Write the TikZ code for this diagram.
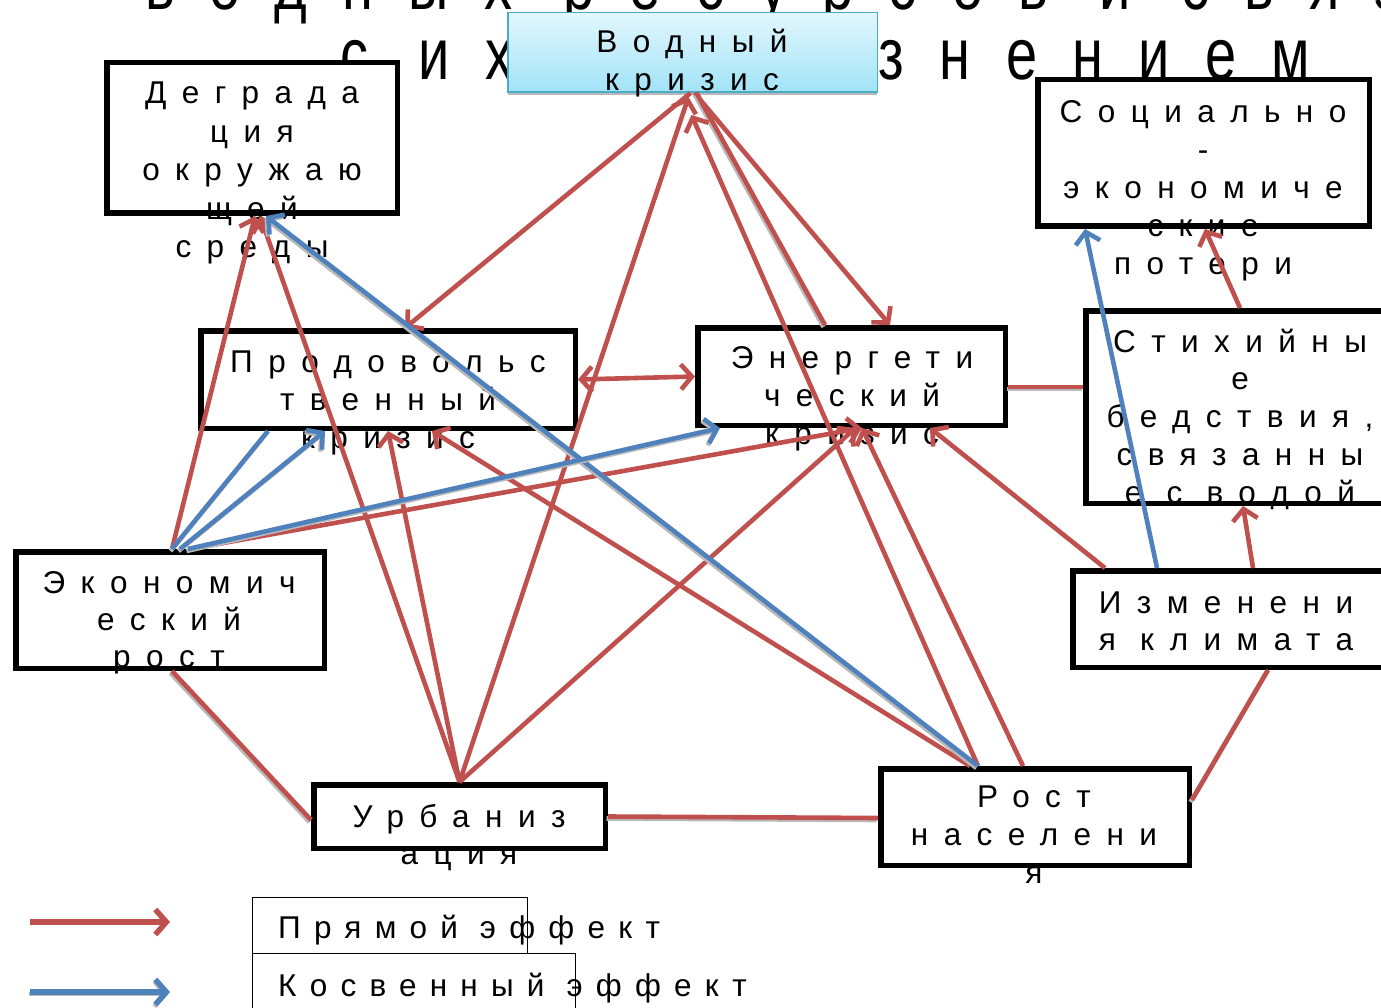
\documentclass[tikz,border=0pt]{standalone}
\usepackage{fontspec}
\setmainfont{Liberation Sans}
\newfontfamily\boxfamily[LetterSpace=49]{Liberation Sans}
\newfontfamily\legendfamily[LetterSpace=42]{Liberation Sans}
\newfontfamily\titlefamily[LetterSpace=63]{Liberation Sans}
\usetikzlibrary{arrows.meta}
\definecolor{effred}{HTML}{C0504D}
\definecolor{effblue}{HTML}{4F81BD}
\definecolor{watertop}{HTML}{E2F7FD}
\definecolor{waterbot}{HTML}{A2E3F7}
\definecolor{waterline}{HTML}{4BACC6}

% one text line per node, baselines spaced evenly
\newcommand\drawlines[5]{%
  \foreach \t [count=\i] in {#5} {\node[lbl] (#1-l\i) at ({#2},{#3+#4*(\i-1)}) {\t};}}

\tikzset{
  x=1pt, y=-1pt,
  >={Straight Barb[length=11pt,width=25pt]},
  blk/.style={draw=black, line width=5.5pt, fill=white, inner sep=0pt},
  waterbox/.style={draw=waterline, line width=1.5pt, top color=watertop,
    bottom color=waterbot, inner sep=0pt,
    preaction={fill=gray!55, transform canvas={yshift=-3pt}}},
  lbl/.style={anchor=base, inner sep=0pt,
    font=\boxfamily\fontsize{31.5}{37}\selectfont},
  legtxt/.style={anchor=base west, inner sep=0pt,
    font=\legendfamily\fontsize{31.5}{37}\selectfont},
  ttl/.style={anchor=base west, inner sep=0pt,
    font=\titlefamily\fontsize{56}{60}\selectfont},
  redline/.style={draw=effred, line width=4.6pt},
  blueline/.style={draw=effblue, line width=4.6pt},
  shadowed/.style={preaction={draw=gray!55, line width=4.6pt,
    transform canvas={xshift=-1.5pt, yshift=-2pt}}},
  legbox/.style={draw=black, line width=0.8pt, inner sep=0pt},
}

\begin{document}
\begin{tikzpicture}
\useasboundingbox (0,0) rectangle (1381,1008);
\clip (0,0) rectangle (1381,1008);
\fill[white] (0,0) rectangle (1381,1008);

% heading behind the boxes
\node[ttl] (title1) at (145,10) {\scalebox{1}[1.3]{водных ресурсов и связ}};
\node[ttl] (title2) at (340,80) {\scalebox{1}[1.3]{с их загрязнением}};

% boxes
\node[waterbox, minimum width=369.5pt, minimum height=79.5pt] (water) at (692.5,52.5) {};
\node[blk, minimum width=290.5pt, minimum height=150.5pt] (deg)  at (252,138) {};
\node[blk, minimum width=331.5pt, minimum height=146.5pt] (soc)  at (1203.5,153) {};
\node[blk, minimum width=374.5pt, minimum height=97.5pt]  (prod) at (388,379.5) {};
\node[blk, minimum width=307.5pt, minimum height=97.5pt]  (ener) at (851.5,376.5) {};
\node[blk, minimum width=301.5pt, minimum height=192.5pt] (stix) at (1236.5,407) {};
\node[blk, minimum width=308.5pt, minimum height=116.5pt] (econ) at (170,610) {};
\node[blk, minimum width=314.5pt, minimum height=96.5pt]  (clim) at (1230,619) {};
\node[blk, minimum width=291.5pt, minimum height=63.5pt]  (urb)  at (459.5,816.5) {};
\node[blk, minimum width=308.5pt, minimum height=96.5pt]  (pop)  at (1035,817) {};

% box texts
\drawlines{water}{692}{53}{38}{Водный,кризис}
\drawlines{deg}{252}{104}{38.5}{Деграда,ция,окружаю,щей,среды}
\drawlines{soc}{1203}{123}{38}{Социально,-,экономиче,ские,потери}
\drawlines{prod}{388}{372}{38}{Продовольс,твенный,кризис}
\drawlines{ener}{852}{368}{38}{Энергети,ческий,кризис}
\drawlines{stix}{1240}{352}{37.75}{Стихийны,е,{бедствия,},связанны,е с водой}
\drawlines{econ}{169}{593}{37}{Экономич,еский,рост}
\drawlines{clim}{1226}{613}{37}{Изменени,я климата}
\drawlines{urb}{459}{827}{37}{Урбаниз,ация}
\drawlines{pop}{1034}{807}{38}{Рост,населени,я}

% direct effects
\draw[redline,->] ([xshift=-2pt]water.south) -- ([xshift=17pt]prod.north);
\draw[redline,->] ([xshift=2pt]water.south) -- ([xshift=38.5pt]ener.north);
\draw[redline,shadowed] ([xshift=-26.5pt]ener.north) -- ([xshift=4pt]water.south);
\draw[redline,->] (urb.north) -- ([xshift=-4pt,yshift=-4pt]water.south);
\draw[redline,->] ([xshift=-57pt]pop.north) -- ([xshift=-1pt,yshift=-22pt]water.south);
\draw[redline,->] ([xshift=2pt]econ.north) -- ([xshift=3pt]deg.south);
\draw[redline,->] (urb.north) -- ([xshift=8pt]deg.south);
\draw[redline,->] (urb.north) -- (prod.south);
\draw[redline,->] ([xshift=-65pt]pop.north) -- ([xshift=44pt]prod.south);
\draw[redline,->] ([xshift=20pt]econ.north) -- ([xshift=10.5pt]ener.south);
\draw[redline,->] (urb.north) -- ([xshift=4pt]ener.south);
\draw[redline,->] ([xshift=-12pt]pop.north) -- ([xshift=10.5pt]ener.south);
\draw[redline,->] ([xshift=-125pt]clim.north) -- ([xshift=78.5pt]ener.south);
\draw[redline,->] ([xshift=23pt]clim.north) -- ([xshift=6.5pt]stix.south);
\draw[redline,->] ([xshift=3.5pt]stix.north) -- ([xshift=1.5pt]soc.south);
\draw[redline,<->] (prod.east) -- (ener.west);
\draw[redline,shadowed] ([yshift=-10.5pt]ener.east) -- ([yshift=20pt]stix.west);
\draw[redline,shadowed] ([xshift=2pt]econ.south) -- ([yshift=-3.5pt]urb.west);
\draw[redline,shadowed] (urb.east) -- ([yshift=-1pt]pop.west);
\draw[redline,shadowed] ([yshift=17pt]pop.east) -- ([xshift=38pt]clim.south);

% indirect effects
\draw[blueline,shadowed,->] ([xshift=-57pt]pop.north) -- ([xshift=14pt]deg.south);
\draw[blueline,shadowed] ([xshift=2pt]econ.north) -- ([xshift=-120pt]prod.south);
\draw[blueline,shadowed,->] ([xshift=10pt]econ.north) -- ([xshift=-63pt]prod.south);
\draw[blueline,shadowed,->] ([xshift=18pt]econ.north) -- ([xshift=-131.5pt]ener.south);
\draw[blueline,->] ([xshift=-73pt]clim.north) -- ([xshift=-118.5pt]soc.south);

% legend
\coordinate (legR0) at (30,922);
\coordinate (legR1) at (170,922);
\coordinate (legB0) at (30,992);
\coordinate (legB1) at (170,992);
\draw[redline,line width=5.5pt,->] (legR0) -- (legR1);
\draw[blueline,line width=5.5pt,shadowed,->] (legB0) -- (legB1);
\node[legtxt] (legtxt1) at (278,938) {Прямой эффект};
\node[legtxt] (legtxt2) at (278,996) {Косвенный эффект};
\node[legbox, minimum width=275pt, minimum height=56pt] (legbox1) at (389.5,925) {};
\node[legbox, minimum width=323pt, minimum height=57pt] (legbox2) at (413.5,981.5) {};
\end{tikzpicture}
\end{document}
